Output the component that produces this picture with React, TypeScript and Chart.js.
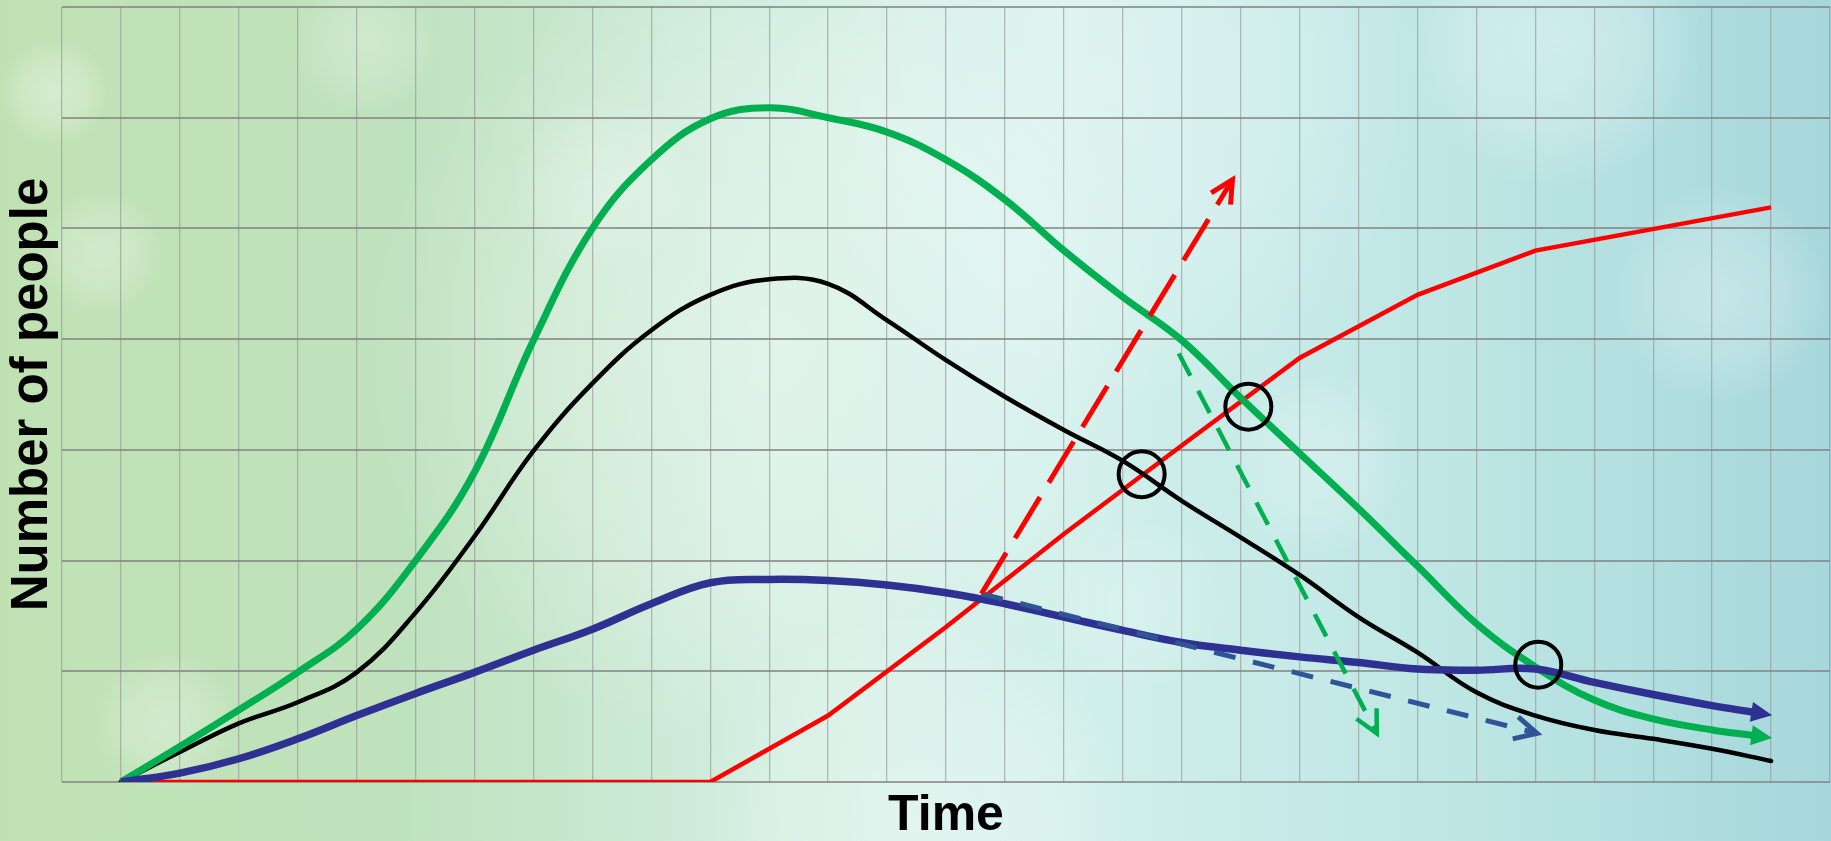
import React, { useEffect, useRef } from "react";
import { Chart, registerables } from "chart.js";

Chart.register(...registerables);

// ---- data (grid units) ----
const timeSteps = [1, 2, 3, 4, 5, 6, 7, 8, 9, 10, 11, 12, 13, 14, 15, 16, 17, 18, 19, 20, 21, 22, 23, 24, 25, 26, 27, 28, 29];
const arrowedSteps = [1, 2, 3, 4, 5, 6, 7, 8, 9, 10, 11, 12, 13, 14, 15, 16, 17, 18, 19, 20, 21, 22, 23, 24, 25, 26, 27, 28, 28.7];

const greenValues = [0, 0.32, 0.65, 0.99, 1.38, 2.0, 2.8, 3.99, 5.0, 5.62, 5.99, 6.09, 6.0, 5.87, 5.62, 5.26, 4.8, 4.38, 3.99, 3.47, 2.97, 2.47, 1.95, 1.43, 1.04, 0.74, 0.57, 0.47, 0.42];
const blackValues = [0, 0.27, 0.53, 0.72, 0.99, 1.53, 2.22, 2.99, 3.6, 4.08, 4.4, 4.54, 4.5, 4.17, 3.81, 3.48, 3.18, 2.9, 2.54, 2.21, 1.87, 1.49, 1.17, 0.81, 0.6, 0.47, 0.39, 0.3, 0.19];
const blueValues = [0, 0.08, 0.21, 0.39, 0.6, 0.8, 0.99, 1.19, 1.38, 1.61, 1.8, 1.83, 1.82, 1.78, 1.71, 1.61, 1.49, 1.37, 1.26, 1.19, 1.13, 1.08, 1.02, 1.01, 1.02, 0.9, 0.79, 0.69, 0.63];

const redSteps = [1, 11, 13, 15, 17, 19, 21, 23, 25, 29];
const redValues = [0, 0, 0.6, 1.4, 2.24, 3.04, 3.83, 4.4, 4.8, 5.19];

const redArrowX = [15.6, 19.86];
const redArrowY = [1.7, 5.44];
const greenArrowX = [18.95, 22.31];
const greenArrowY = [3.87, 0.44];
const blueArrowX = [15.6, 25.03];
const blueArrowY = [1.7, 0.44];

const circleX = [18.32, 20.13, 25.05];
const circleY = [2.78, 3.39, 1.06];

const xTicks = { min: 0, max: 30, step: 1 };
const yTicks = { min: 0, max: 7, step: 1 };

const xTitle = "Time";
const yTitle = "Number of people";

const toPoints = (xs: number[], ys: number[]) => xs.map((x, i) => ({ x, y: ys[i] }));

// ---- plugins ----
const backgroundPlugin = {
  id: "bg",
  beforeDraw(chart: any) {
    const { ctx, width, height } = chart;
    ctx.save();
    const g = ctx.createLinearGradient(0, 0, width, 0);
    g.addColorStop(0, "#c0e2b3");
    g.addColorStop(0.22, "#bfe2be");
    g.addColorStop(0.42, "#d1eee0");
    g.addColorStop(0.58, "#d2f0eb");
    g.addColorStop(0.8, "#bde6e4");
    g.addColorStop(1, "#a6d7db");
    ctx.fillStyle = g;
    ctx.fillRect(0, 0, width, height);
    const blobs = [
      [0.42, 0.42, 0.22, 0.35],
      [0.6, 0.1, 0.18, 0.3],
      [0.5, 0.98, 0.12, 0.35],
      [0.85, 0.05, 0.08, 0.35],
      [0.94, 0.35, 0.06, 0.3],
      [0.03, 0.11, 0.03, 0.35],
      [0.055, 0.3, 0.035, 0.3],
      [0.2, 0.05, 0.04, 0.25],
      [0.72, 0.55, 0.05, 0.25],
      [0.09, 0.86, 0.04, 0.3],
      [0.33, 0.22, 0.05, 0.2],
      [0.62, 0.72, 0.05, 0.2],
    ];
    for (const [bx, by, br, a] of blobs) {
      const cx = bx * width, cy = by * height, r = br * width;
      const rg = ctx.createRadialGradient(cx, cy, 0, cx, cy, r);
      rg.addColorStop(0, `rgba(255,255,255,${a})`);
      rg.addColorStop(0.6, `rgba(255,255,255,${a * 0.6})`);
      rg.addColorStop(1, "rgba(255,255,255,0)");
      ctx.fillStyle = rg;
      ctx.fillRect(cx - r, cy - r, 2 * r, 2 * r);
    }
    ctx.restore();
  },
};

const arrowPlugin = {
  id: "arrowHeads",
  afterDatasetsDraw(chart: any) {
    const ctx = chart.ctx;
    chart.data.datasets.forEach((ds: any, i: number) => {
      const kind = ds.arrowHead;
      if (!kind) return;
      const pts = chart.getDatasetMeta(i).data;
      const n = pts.length;
      if (n < 2) return;
      const p = pts[n - 1];
      const q = pts[n - 2];
      let dx = p.x - (p.cp1x ?? q.x);
      let dy = p.y - (p.cp1y ?? q.y);
      if (!isFinite(dx) || !isFinite(dy) || Math.hypot(dx, dy) < 1) {
        dx = p.x - q.x;
        dy = p.y - q.y;
      }
      const len = Math.hypot(dx, dy);
      const ux = dx / len, uy = dy / len;
      const nx = -uy, ny = ux;
      ctx.save();
      if (kind === "filled") {
        const L = 19, W = 10;
        const bx = p.x - ux * 2, by = p.y - uy * 2;
        const tx = p.x + ux * L, ty = p.y + uy * L;
        ctx.fillStyle = ds.borderColor;
        ctx.beginPath();
        ctx.moveTo(tx, ty);
        ctx.lineTo(bx + nx * W, by + ny * W);
        ctx.lineTo(bx - nx * W, by - ny * W);
        ctx.closePath();
        ctx.fill();
      } else {
        const L = 25, ang = (27 * Math.PI) / 180;
        const c = Math.cos(ang), s = Math.sin(ang);
        const a1x = -ux * c - nx * s, a1y = -uy * c - ny * s;
        const a2x = -ux * c + nx * s, a2y = -uy * c + ny * s;
        ctx.strokeStyle = ds.borderColor;
        ctx.lineWidth = ds.borderWidth;
        ctx.lineJoin = "miter";
        ctx.lineCap = "butt";
        ctx.setLineDash([]);
        ctx.beginPath();
        ctx.moveTo(p.x + a1x * L, p.y + a1y * L);
        ctx.lineTo(p.x, p.y);
        ctx.lineTo(p.x + a2x * L, p.y + a2y * L);
        ctx.stroke();
      }
      ctx.restore();
    });
  },
};

export default function App() {
  const ref = useRef<HTMLCanvasElement | null>(null);
  useEffect(() => {
    if (!ref.current) return;
    const smooth = { tension: 0.4, pointRadius: 0, fill: false };
    const chart = new Chart(ref.current, {
      type: "line",
      data: {
        datasets: [
          {
            label: "circles",
            data: toPoints(circleX, circleY),
            showLine: false,
            pointRadius: 23,
            pointBorderWidth: 4,
            pointBorderColor: "#000000",
            pointBackgroundColor: "rgba(0,0,0,0)",
            borderColor: "#000000",
            order: 0,
          },
          {
            label: "red trend",
            data: toPoints(redArrowX, redArrowY),
            borderColor: "#ff0000",
            borderWidth: 5,
            borderDash: [48, 17],
            pointRadius: 0,
            tension: 0,
            arrowHead: "open",
            order: 1,
          },
          {
            label: "green trend",
            data: toPoints(greenArrowX, greenArrowY),
            borderColor: "#00b050",
            borderWidth: 4.5,
            borderDash: [25, 17],
            pointRadius: 0,
            tension: 0,
            arrowHead: "open",
            order: 2,
          },
          {
            label: "blue trend",
            data: toPoints(blueArrowX, blueArrowY),
            borderColor: "#2f5597",
            borderWidth: 5,
            borderDash: [22, 18],
            pointRadius: 0,
            tension: 0,
            arrowHead: "open",
            order: 3,
          },
          {
            label: "blue",
            data: toPoints(arrowedSteps, blueValues),
            borderColor: "#2e3192",
            borderWidth: 7.5,
            borderCapStyle: "butt",
            arrowHead: "filled",
            order: 4,
            ...smooth,
          },
          {
            label: "green",
            data: toPoints(arrowedSteps, greenValues),
            borderColor: "#00b050",
            borderWidth: 7,
            borderCapStyle: "butt",
            arrowHead: "filled",
            order: 5,
            ...smooth,
          },
          {
            label: "black",
            data: toPoints(timeSteps, blackValues),
            borderColor: "#000000",
            borderWidth: 4.5,
            borderCapStyle: "round",
            order: 6,
            ...smooth,
          },
          {
            label: "red",
            data: toPoints(redSteps, redValues),
            borderColor: "#ff0000",
            borderWidth: 4.5,
            tension: 0,
            pointRadius: 0,
            order: 7,
          },
        ] as any,
      },
      options: {
        animation: false,
        responsive: true,
        maintainAspectRatio: false,
        layout: { autoPadding: false, padding: { left: 7, right: 1, top: 7, bottom: 0 } },
        plugins: { legend: { display: false }, tooltip: { enabled: false } },
        scales: {
          x: {
            type: "linear",
            min: xTicks.min,
            max: xTicks.max,
            ticks: { display: false, stepSize: xTicks.step },
            grid: { color: "rgba(150,150,150,0.65)", lineWidth: 1.3, drawTicks: false },
            border: { display: false },
            title: {
              display: true,
              text: xTitle,
              color: "#000000",
              font: { family: "'Liberation Sans', Arial, sans-serif", size: 50, weight: "bold", lineHeight: 1 },
              padding: { top: 9, bottom: 0 },
            },
          },
          y: {
            type: "linear",
            min: yTicks.min,
            max: yTicks.max,
            ticks: { display: false, stepSize: yTicks.step },
            grid: { color: "rgba(135,135,135,0.8)", lineWidth: 2, drawTicks: false },
            border: { display: false },
            title: {
              display: true,
              text: yTitle,
              color: "#000000",
              font: { family: "'Liberation Sans', Arial, sans-serif", size: 51, weight: "bold", lineHeight: 1 },
              padding: { top: 0, bottom: 4 },
            },
          },
        },
      } as any,
      plugins: [backgroundPlugin, arrowPlugin],
    });
    return () => chart.destroy();
  }, []);
  return (
    <div style={{ position: "fixed", left: 0, top: 0, width: "100vw", height: "100vh" }}>
      <canvas ref={ref} />
    </div>
  );
}
